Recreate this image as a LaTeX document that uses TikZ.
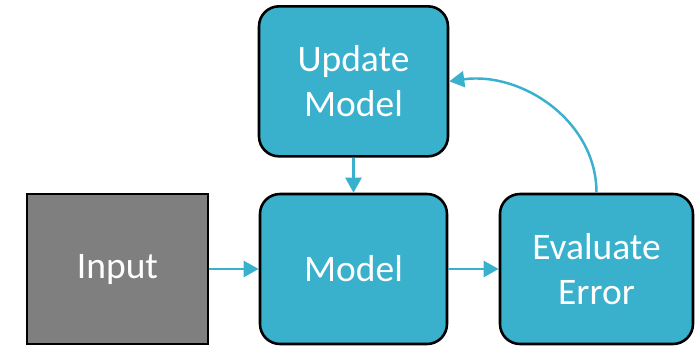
\documentclass[tikz,border=0pt]{standalone}
\usepackage{fontspec}
\setmainfont{Carlito}
\usetikzlibrary{arrows.meta}
\definecolor{boxblue}{RGB}{57,176,204}
\definecolor{inputgray}{RGB}{127,127,127}
\begin{document}
\begin{tikzpicture}[
    box/.style={draw=black, line width=2.2pt, rounded corners=0.6cm, fill=boxblue, text=white,
        align=center, inner sep=0pt, minimum width=5.67cm, minimum height=4.5cm,
        font=\fontsize{32}{38.5}\selectfont},
    inbox/.style={box, sharp corners, fill=inputgray, minimum width=5.43cm},
    link/.style={draw=boxblue, line width=2.1pt, -{Triangle[length=0.45cm, width=0.48cm]}}
]
            \useasboundingbox (-3.525,-2.28) rectangle (17.475,8.07);

            \node (1) [inbox] {Input};
            \node (2) [box, minimum width=5.61cm, node distance=7.08cm, right of=1] {Model};
            \node (3) [box, node distance=5.63cm, above of=2] {Update\\Model};
            \node (4) [box, minimum width=5.79cm, node distance=7.29cm, right of=2] {Evaluate\\Error};

            \draw [link] (1) to (2);
            \draw [link] (2) to (4);
            \draw [link] (3) to (2);
            \draw [link] (4.north) to [out=90, in=8] (3.east);
        \end{tikzpicture}
\end{document}
